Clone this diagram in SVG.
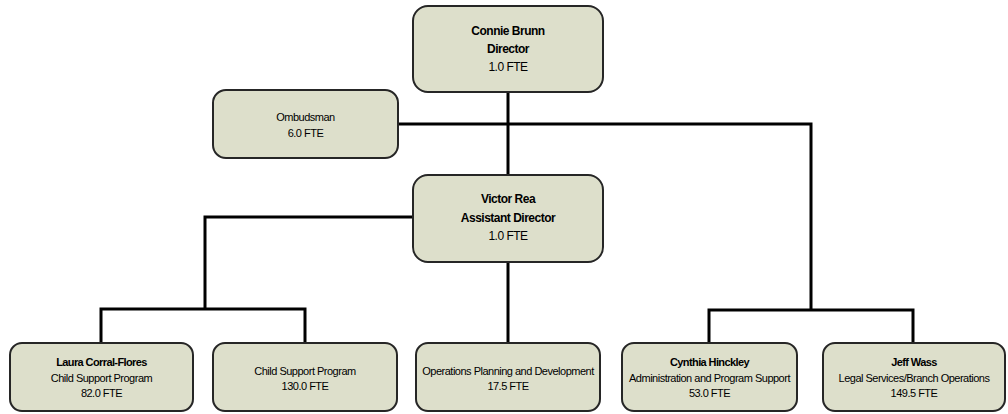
<svg xmlns="http://www.w3.org/2000/svg" width="1008" height="414" viewBox="0 0 1008 414">
<style>
.box{fill:#dddfcb;stroke:#262626;stroke-width:2}
.conn{fill:none;stroke:#000;stroke-width:3;stroke-linejoin:miter}
text{font-family:"Liberation Sans",Arial,sans-serif;fill:#000;text-anchor:middle;letter-spacing:-0.5px}
.b12{font-size:12px;font-weight:bold}
.r12{font-size:12px}
.b11{font-size:11px;font-weight:bold;letter-spacing:-0.6px}
.r11{font-size:11px}
</style>
<rect width="1008" height="414" fill="#fff"/>
<g id="connectors">
<path class="conn" d="M508 92V175"/>
<path class="conn" d="M398 124H811V310"/>
<path class="conn" d="M709 343V310H913V343"/>
<path class="conn" d="M413 217H205V309"/>
<path class="conn" d="M101 343V309H305V343"/>
<path class="conn" d="M508 262V343"/>
</g>
<g id="director">
<rect class="box" x="413" y="6" width="190" height="86" rx="15"/>
<text class="b12" x="508" y="35">Connie Brunn</text>
<text class="b12" x="508" y="53">Director</text>
<text class="r12" x="508" y="71">1.0 FTE</text>
</g>
<g id="ombudsman">
<rect class="box" x="213" y="90" width="185" height="68" rx="13"/>
<text class="r11" x="305.5" y="121">Ombudsman</text>
<text class="r11" x="305.5" y="137">6.0 FTE</text>
</g>
<g id="assistant-director">
<rect class="box" x="413" y="175" width="190" height="87" rx="15"/>
<text class="b12" x="508" y="203">Victor Rea</text>
<text class="b12" x="508" y="222">Assistant Director</text>
<text class="r12" x="508" y="240">1.0 FTE</text>
</g>
<g id="laura">
<rect class="box" x="10" y="343" width="183" height="68" rx="12"/>
<text class="b11" x="101.5" y="366">Laura Corral-Flores</text>
<text class="r11" x="101.5" y="382">Child Support Program</text>
<text class="r11" x="101.5" y="397">82.0 FTE</text>
</g>
<g id="child-support">
<rect class="box" x="213" y="343" width="184" height="68" rx="12"/>
<text class="r11" x="305" y="375">Child Support Program</text>
<text class="r11" x="305" y="390">130.0 FTE</text>
</g>
<g id="operations">
<rect class="box" x="416" y="343" width="184" height="68" rx="12"/>
<text class="r11" x="508" y="375">Operations Planning and Development</text>
<text class="r11" x="508" y="390">17.5 FTE</text>
</g>
<g id="cynthia">
<rect class="box" x="622" y="343" width="175" height="68" rx="12"/>
<text class="b11" x="709.5" y="366">Cynthia Hinckley</text>
<text class="r11" x="709.5" y="382">Administration and Program Support</text>
<text class="r11" x="709.5" y="397">53.0 FTE</text>
</g>
<g id="jeff">
<rect class="box" x="823" y="343" width="182" height="68" rx="12"/>
<text class="b11" x="914" y="366">Jeff Wass</text>
<text class="r11" x="914" y="382">Legal Services/Branch Operations</text>
<text class="r11" x="914" y="397">149.5 FTE</text>
</g>
</svg>
